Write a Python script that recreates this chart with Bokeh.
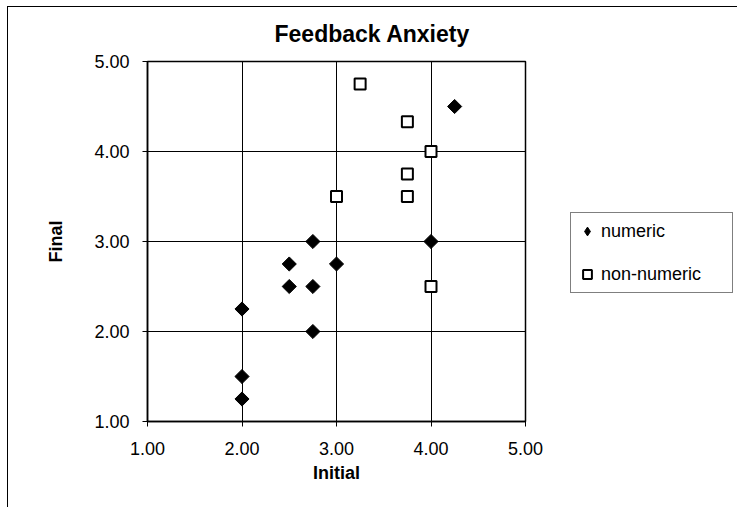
import numpy as np
from bokeh.plotting import figure
from bokeh.models import Range1d, FixedTicker, Legend, LegendItem, ColumnDataSource
from bokeh.embed import file_html
from bokeh.resources import INLINE

# ---- data ----
numeric_initial = [2.00, 2.00, 2.00, 2.50, 2.50, 2.75, 2.75, 2.75, 3.00, 4.00, 4.25]
numeric_final = [2.25, 1.50, 1.25, 2.75, 2.50, 3.00, 2.50, 2.00, 2.75, 3.00, 4.50]
nonnum_initial = [3.00, 3.25, 3.75, 3.75, 3.75, 4.00, 4.00]
nonnum_final = [3.50, 4.75, 4.33, 3.75, 3.50, 4.00, 2.50]
ticks = [1, 2, 3, 4, 5]
tick_labels = {1: "1.00", 2: "2.00", 3: "3.00", 4: "4.00", 5: "5.00"}

FONT = "Liberation Sans"

p = figure(frame_width=378, frame_height=360, output_backend="svg", toolbar_location=None,
           x_range=Range1d(1, 5), y_range=Range1d(1, 5),
           min_border_left=139, min_border_right=211,
           min_border_top=54, min_border_bottom=86,
           title="Feedback Anxiety")
p.styles = {"border-left": "1px solid black", "border-top": "1px solid black",
            "margin-left": "7px", "margin-top": "6px"}

p.title.align = "left"
p.title.offset = 127
p.title.vertical_align = "top"
p.title.text_font = FONT
p.title.text_font_size = "23px"
p.title.text_font_style = "bold"
p.title.text_color = "black"
p.title.standoff = 26

p.outline_line_color = "black"
p.outline_line_width = 1.5
p.background_fill_color = "white"
p.border_fill_color = "white"

for ax in (p.xaxis[0], p.yaxis[0]):
    ax.ticker = FixedTicker(ticks=ticks)
    ax.major_label_overrides = tick_labels
    ax.major_label_text_font = FONT
    ax.major_label_text_font_size = "18px"
    ax.major_label_text_color = "black"
    ax.major_tick_out = 5
    ax.major_tick_in = 0
    ax.minor_tick_out = 0
    ax.minor_tick_in = 0
    ax.major_tick_line_color = "black"
    ax.axis_line_color = "black"
    ax.axis_line_width = 1.5
    ax.axis_label_text_font = FONT
    ax.axis_label_text_font_size = "18px"
    ax.axis_label_text_font_style = "bold"
    ax.axis_label_text_color = "black"

p.xaxis.major_label_standoff = 15
p.yaxis.major_label_standoff = 13
p.xaxis.axis_label = "Initial"
p.yaxis.axis_label = "Final"
p.xaxis.axis_label_standoff = 5
p.yaxis.axis_label_standoff = 25

for g in (p.xgrid[0], p.ygrid[0]):
    g.ticker = FixedTicker(ticks=ticks)
    g.grid_line_color = "black"
    g.grid_line_width = 1

src_n = ColumnDataSource(dict(x=numeric_initial, y=numeric_final))
src_nn = ColumnDataSource(dict(x=nonnum_initial, y=nonnum_final))

# numeric points: square rotated by 45 degrees gives an equal-sided diamond
r_n = p.scatter("x", "y", source=src_n, marker="square", angle=np.pi / 4, size=10,
                fill_color="black", line_color="black", line_width=1)
r_nn = p.scatter("x", "y", source=src_nn, marker="square", size=11,
                 fill_color="white", line_color="black", line_width=2)
# legend-only swatch for the numeric series (a single NaN point, never drawn in the plot)
r_n_key = p.scatter(x=[np.nan], y=[np.nan], marker="diamond", size=10,
                    fill_color="black", line_color="black", line_width=1)

legend = Legend(items=[LegendItem(label="numeric", renderers=[r_n_key]),
                       LegendItem(label="non-numeric", renderers=[r_nn])],
                location=(45, 128))
legend.label_text_font = FONT
legend.label_text_font_size = "18px"
legend.label_text_color = "black"
legend.border_line_color = "black"
legend.border_line_width = 1.5
legend.padding = 5
legend.margin = 0
legend.spacing = 17
legend.glyph_height = 26
legend.glyph_width = 22
legend.label_height = 20
legend.label_standoff = 3
legend.label_width = 126
legend.background_fill_alpha = 1.0
p.add_layout(legend, "right")

open("out.html", "w").write(file_html(p, INLINE))
